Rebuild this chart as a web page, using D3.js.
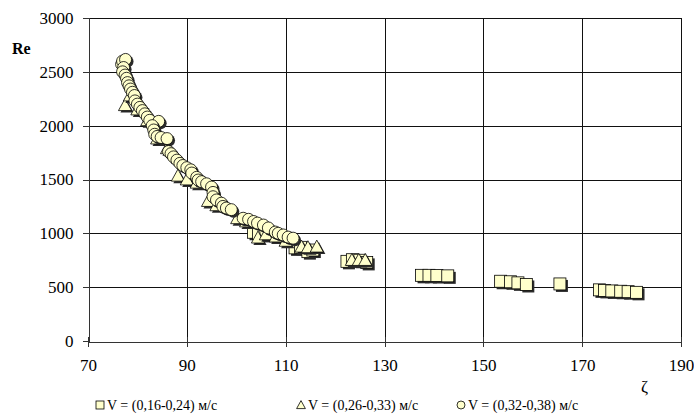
<!DOCTYPE html>
<html>
<head>
<meta charset="utf-8">
<script src="https://cdn.jsdelivr.net/npm/d3@7"></script>
<style>
  body { margin: 0; background: #fff; }
  svg { display: block; }
</style>
</head>
<body>
<div id="chart"></div>
<script>
// --- Data (ζ, Re) ---
const seriesNames = ['V = (0,16-0,24) м/с', 'V = (0,26-0,33) м/с', 'V = (0,32-0,38) м/с'];

const squares = [
    [103.5, 1010], [104.5, 1000], [106, 990],
    [111.9, 865], [113, 870], [114.5, 830], [115.5, 845],
    [122.4, 740], [123.5, 755], [125, 750], [126.4, 730],
    [137.5, 610], [139, 610], [140.6, 608], [142.8, 605],
    [153.5, 555], [155.5, 550], [157, 540], [158.7, 525],
    [165.5, 530],
    [173.5, 475], [174.5, 470], [176, 465], [177.8, 462], [179.3, 458], [181, 452]
];

const triangles = [
    [77.5, 2190], [78.5, 2280], [80, 2150], [82, 2050], [84, 1880], [86, 1790],
    [88.2, 1535], [90, 1500], [92, 1470], [94.3, 1300], [96, 1260], [100.2, 1140],
    [102, 1110], [104.4, 960], [106, 990], [108, 970], [110, 930],
    [113.2, 876], [114.5, 870], [116.3, 876],
    [123.4, 752], [124.8, 752], [126.1, 752]
];

const circles = [
    [76.8, 2570], [77.0, 2600], [77.6, 2615], [77.2, 2540], [77.0, 2500], [77.5, 2470],
    [77.8, 2440], [78.0, 2400], [78.3, 2370], [78.6, 2340], [79.0, 2310], [79.4, 2280],
    [79.5, 2230], [80.0, 2200], [80.5, 2170], [81.0, 2140], [81.5, 2110], [82.0, 2080],
    [82.5, 2050], [84.3, 2040], [83.0, 2000], [83.3, 1960], [83.5, 1920], [84.0, 1900],
    [84.8, 1890], [86.0, 1880], [86.3, 1760], [86.8, 1740], [87.3, 1710], [88.0, 1680],
    [88.6, 1650], [89.2, 1630], [90.0, 1610], [90.8, 1590], [91.0, 1560], [92.0, 1520],
    [92.3, 1495], [93.0, 1480], [94.0, 1460], [95.0, 1430], [95.3, 1380], [95.3, 1340],
    [96.0, 1310], [97.0, 1280], [97.3, 1250], [98.0, 1235], [99.0, 1220], [101.4, 1140],
    [102.5, 1130], [103.5, 1110], [104.3, 1095], [105.5, 1077], [106.5, 1050], [107.9, 1012],
    [108.5, 1000], [109.5, 985], [110.5, 965], [111.5, 955]
];

const xTicks = [70, 90, 110, 130, 150, 170, 190];
const yTicks = [0, 500, 1000, 1500, 2000, 2500, 3000];

// --- Layout ---
const W = 694, H = 419;
const M = { left: 88, right: 13, top: 18, bottom: 78 };
const FONT = '"Liberation Serif", "Times New Roman", "DejaVu Serif", serif';
const FILL = '#ffffcc';
const SHADOW = '#2b2b2b';

const svg = d3.select('#chart').append('svg')
    .attr('width', W)
    .attr('height', H)
    .attr('font-family', FONT);

const x = d3.scaleLinear().domain([70, 190]).range([M.left, W - M.right]);
const y = d3.scaleLinear().domain([0, 3000]).range([H - M.bottom, M.top]);

// Gridlines
const grid = svg.append('g').attr('shape-rendering', 'crispEdges').attr('stroke', '#111');
grid.selectAll('line.h').data(yTicks.slice(1)).join('line')
    .attr('x1', x(70)).attr('x2', x(190))
    .attr('y1', d => Math.round(y(d)) + 0.5).attr('y2', d => Math.round(y(d)) + 0.5);
grid.selectAll('line.v').data(xTicks.slice(1)).join('line')
    .attr('y1', y(0)).attr('y2', y(3000))
    .attr('x1', d => Math.round(x(d)) + 0.5).attr('x2', d => Math.round(x(d)) + 0.5);

// Axes
const yAxis = svg.append('g')
    .attr('transform', `translate(${Math.round(x(70)) + 0.5},0)`)
    .call(d3.axisLeft(y).tickValues(yTicks).tickSize(6).tickPadding(9).tickFormat(d3.format('d')));
const xAxis = svg.append('g')
    .attr('transform', `translate(0,${Math.round(y(0)) + 0.5})`)
    .call(d3.axisBottom(x).tickValues(xTicks).tickSize(5).tickPadding(12).tickFormat(d3.format('d')));

[yAxis, xAxis].forEach(a => {
    a.attr('font-family', FONT).attr('font-size', 17);
    a.select('.domain').attr('stroke', '#333').attr('shape-rendering', 'crispEdges');
    a.selectAll('.tick line').attr('stroke', '#333').attr('shape-rendering', 'crispEdges');
    a.selectAll('.tick text').attr('fill', '#000');
});
xAxis.selectAll('.tick line').attr('y1', -5).attr('y2', 5);

// Axis titles
svg.append('text').attr('x', 12).attr('y', 54)
    .attr('font-size', 16).attr('font-weight', 'bold').text('Re');
svg.append('text').attr('x', 641).attr('y', 392)
    .attr('font-size', 17).text('ζ');

// --- Markers ---
const markers = {
    square: (g, s) => g.append('rect').attr('x', -s / 2).attr('y', -s / 2).attr('width', s).attr('height', s),
    triangle: (g, s) => g.append('path').attr('d', `M0,${-s * 0.55}L${s * 0.55},${s * 0.45}L${-s * 0.55},${s * 0.45}Z`),
    circle: (g, s) => g.append('circle').attr('r', s / 2)
};

function drawSeries(data, kind, size) {
    const g = svg.append('g');
    data.forEach(([zx, re]) => {
        const pg = g.append('g').attr('transform', `translate(${x(zx)},${y(re)})`);
        markers[kind](pg.append('g').attr('transform', 'translate(2,2)'), size)
            .attr('fill', SHADOW);
        markers[kind](pg, size)
            .attr('fill', FILL).attr('stroke', '#000').attr('stroke-width', 0.8);
    });
}

drawSeries(squares, 'square', 12);
drawSeries(triangles, 'triangle', 12);
drawSeries(circles, 'circle', 12);

// --- Legend ---
const legendItems = [
    { kind: 'square', x: 96, label: seriesNames[0] },
    { kind: 'triangle', x: 297, label: seriesNames[1] },
    { kind: 'circle', x: 457, label: seriesNames[2] }
];
const lg = svg.append('g').attr('transform', 'translate(0,410)');
legendItems.forEach(it => {
    const g = lg.append('g').attr('transform', `translate(${it.x},0)`);
    markers[it.kind](g.append('g').attr('transform', 'translate(4,-5)'), 8)
        .attr('fill', FILL).attr('stroke', '#000').attr('stroke-width', 0.8);
    g.append('text').attr('x', 11).attr('y', 0).attr('font-size', 14).text(it.label);
});
</script>
</body>
</html>
